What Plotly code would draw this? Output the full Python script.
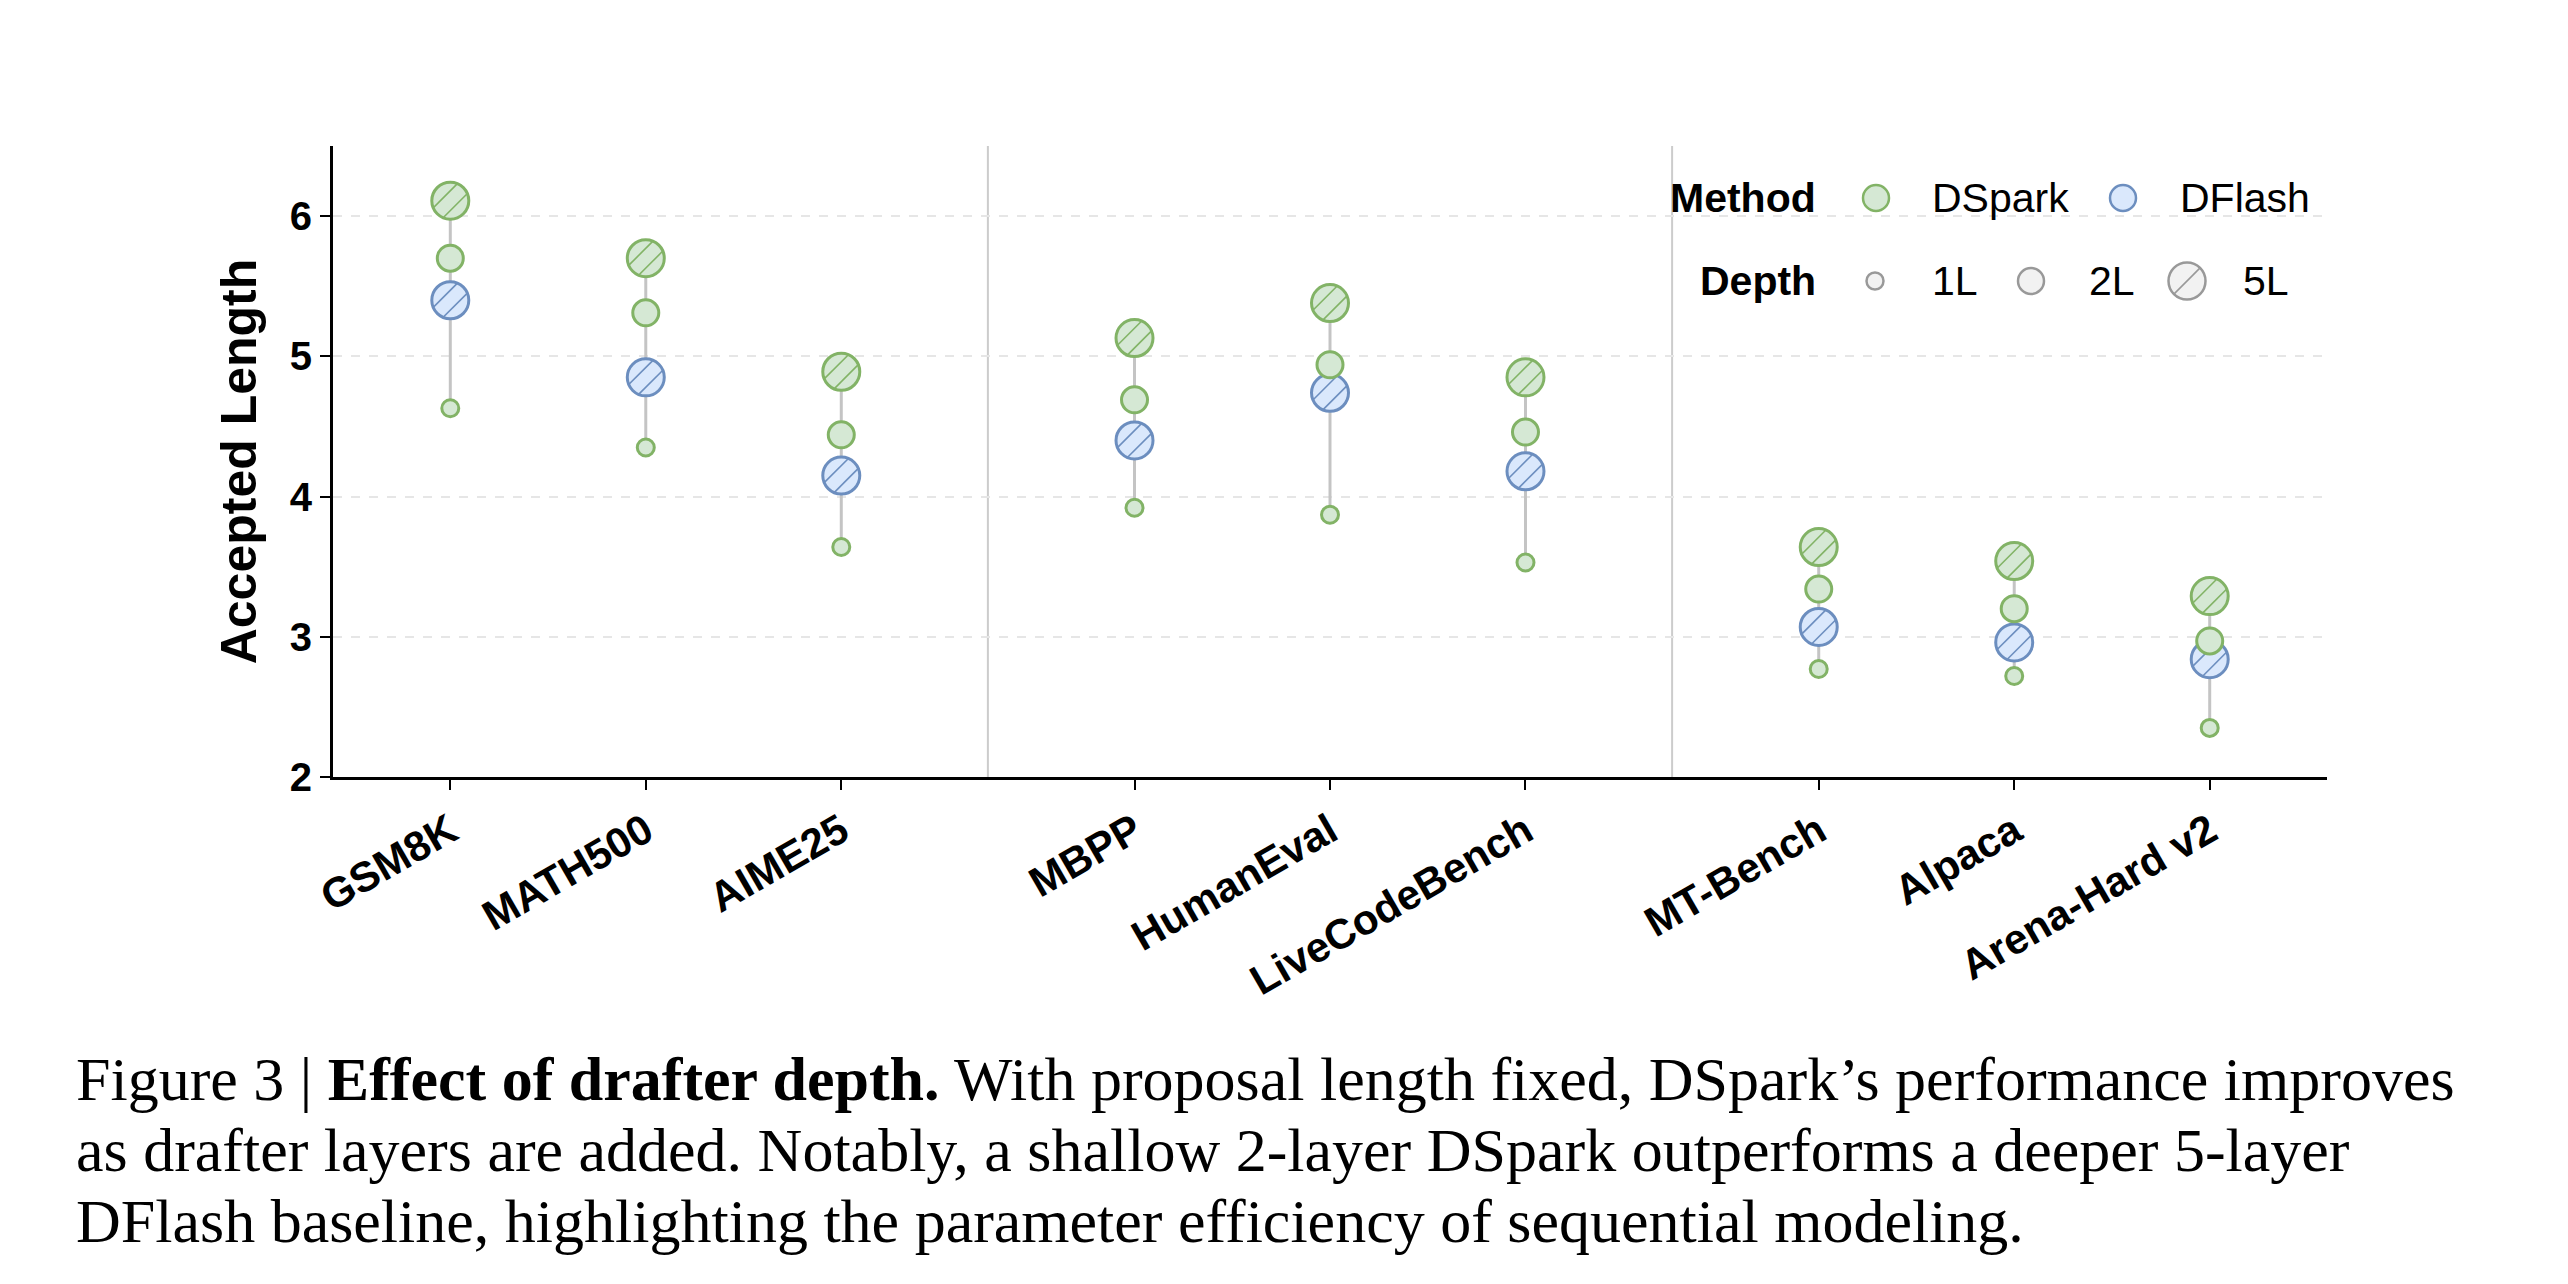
import math
import plotly.graph_objects as go

# ---------------- data ----------------
groups = [["GSM8K", "MATH500", "AIME25"],
          ["MBPP", "HumanEval", "LiveCodeBench"],
          ["MT-Bench", "Alpaca", "Arena-Hard v2"]]
categories = [c for g in groups for c in g]

dspark_1l = [4.63, 4.35, 3.64, 3.92, 3.87, 3.53, 2.77, 2.72, 2.35]
dspark_2l = [5.70, 5.31, 4.44, 4.69, 4.94, 4.46, 3.34, 3.20, 2.97]
dspark_5l = [6.11, 5.70, 4.89, 5.13, 5.38, 4.85, 3.64, 3.54, 3.29]
dflash_5l = [5.40, 4.85, 4.15, 4.40, 4.74, 4.18, 3.07, 2.96, 2.84]

y_ticks = [2, 3, 4, 5, 6]
y_range = [2, 6.5]

caption_lines = [
    "Figure 3 | <b>Effect of drafter depth.</b> With proposal length fixed, DSpark\u2019s performance improves",
    "as drafter layers are added. Notably, a shallow 2-layer DSpark outperforms a deeper 5-layer",
    "DFlash baseline, highlighting the parameter efficiency of sequential modeling.",
]

# ---------------- styling ----------------
W, H = 2568, 1284
ML, MR, MT, MB = 333, 241, 146, 507
PW, PH = W - ML - MR, H - MT - MB

DSPARK_FILL, DSPARK_EDGE = "#d5e8d4", "#82b366"
DFLASH_FILL, DFLASH_EDGE = "#dae8fc", "#6c8ebf"
GREY_FILL, GREY_EDGE = "#f2f2f2", "#999999"
SIZE_1L, SIZE_2L, SIZE_5L = 17, 26, 37
EDGE_W = 3
SANS = "Liberation Sans, Arial, sans-serif"

# x positions from group structure
group_gap = 1.5
xpos, seps = [], []
cursor = 0.0
for gi, g in enumerate(groups):
    for i in range(len(g)):
        xpos.append(cursor + i)
    last = cursor + len(g) - 1
    if gi < len(groups) - 1:
        seps.append(last + group_gap / 2)
    cursor = last + group_gap
x_range = [xpos[0] - 0.6, xpos[-1] + 0.6]

px_per_x = PW / (x_range[1] - x_range[0])
px_per_y = PH / (y_range[1] - y_range[0])

fig = go.Figure()

# connectors
cx, cy = [], []
for i, p in enumerate(xpos):
    vals = [dspark_1l[i], dspark_2l[i], dspark_5l[i], dflash_5l[i]]
    cx += [p, p, None]
    cy += [min(vals), max(vals), None]
fig.add_trace(go.Scatter(x=cx, y=cy, mode="lines", line=dict(color="#c4c4c4", width=3),
                         hoverinfo="skip", showlegend=False))


def circles(xs, ys, size, fill, edge, lw=EDGE_W, xaxis="x", yaxis="y"):
    fig.add_trace(go.Scatter(x=xs, y=ys, mode="markers", xaxis=xaxis, yaxis=yaxis,
                             marker=dict(symbol="circle", size=size, color=fill,
                                         line=dict(color=edge, width=lw)),
                             showlegend=False, hoverinfo="skip", cliponaxis=False))


def hatch(xs, ys, size, edge, offsets_px, xaxis="x", yaxis="y", ppx=px_per_x, ppy=px_per_y):
    r = size / 2.0
    for d in offsets_px:
        half = math.sqrt(max(r * r - d * d, 1.0))
        s = half * math.sqrt(2)
        comp = d / math.sqrt(2)
        hx = [x + comp / ppx for x in xs]
        hy = [y - comp / ppy for y in ys]
        fig.add_trace(go.Scatter(x=hx, y=hy, mode="markers", xaxis=xaxis, yaxis=yaxis,
                                 marker=dict(symbol="line-ne-open", size=s, color=edge,
                                             line=dict(color=edge, width=1.6)),
                                 showlegend=False, hoverinfo="skip", cliponaxis=False))


# DFlash 5L (drawn first so DSpark overlaps it)
circles(xpos, dflash_5l, SIZE_5L, DFLASH_FILL, DFLASH_EDGE)
hatch(xpos, dflash_5l, SIZE_5L, DFLASH_EDGE, [-7, 7])
# DSpark
circles(xpos, dspark_1l, SIZE_1L, DSPARK_FILL, DSPARK_EDGE)
circles(xpos, dspark_2l, SIZE_2L, DSPARK_FILL, DSPARK_EDGE)
circles(xpos, dspark_5l, SIZE_5L, DSPARK_FILL, DSPARK_EDGE)
hatch(xpos, dspark_5l, SIZE_5L, DSPARK_EDGE, [-7, 7])

# ---------------- custom legend (paper-like axes) ----------------
def px2x(px):
    return (px - ML) / PW


def py2y(py):
    return (H - MB - py) / PH


row1, row2 = 198, 281
leg_ppx, leg_ppy = PW, PH
circles([px2x(1876)], [py2y(row1)], SIZE_2L, DSPARK_FILL, DSPARK_EDGE, 2.5, "x2", "y2")
circles([px2x(2123)], [py2y(row1)], SIZE_2L, DFLASH_FILL, DFLASH_EDGE, 2.5, "x2", "y2")
circles([px2x(1875)], [py2y(row2)], SIZE_1L, GREY_FILL, GREY_EDGE, 2.5, "x2", "y2")
circles([px2x(2031)], [py2y(row2)], SIZE_2L, GREY_FILL, GREY_EDGE, 2.5, "x2", "y2")
circles([px2x(2187)], [py2y(row2)], SIZE_5L, GREY_FILL, GREY_EDGE, 2.5, "x2", "y2")
hatch([px2x(2187)], [py2y(row2)], SIZE_5L, GREY_EDGE, [0], "x2", "y2", leg_ppx, leg_ppy)

annotations = []
LEG_FONT = 41


def leg_text(txt, px, py, anchor, bold=False):
    annotations.append(dict(text=("<b>%s</b>" % txt) if bold else txt, x=px2x(px), y=py2y(py),
                            xref="paper", yref="paper", xanchor=anchor, yanchor="middle",
                            showarrow=False, font=dict(family=SANS, size=LEG_FONT, color="black")))


leg_text("Method", 1818, row1, "right", True)
leg_text("DSpark", 1930, row1, "left")
leg_text("DFlash", 2178, row1, "left")
leg_text("Depth", 1818, row2, "right", True)
leg_text("1L", 1930, row2, "left")
leg_text("2L", 2087, row2, "left")
leg_text("5L", 2241, row2, "left")

# caption
CAP_FONT = 62
for line, base in zip(caption_lines, [1100, 1171, 1242]):
    annotations.append(dict(text=line, x=px2x(74), y=py2y(base - 0.3375 * CAP_FONT),
                            xref="paper", yref="paper", xanchor="left", yanchor="middle",
                            showarrow=False,
                            font=dict(family="Liberation Serif, Times New Roman, serif",
                                      size=CAP_FONT, color="black")))

shapes = [dict(type="line", xref="x", yref="paper", x0=s, x1=s, y0=0, y1=1,
               line=dict(color="#cccccc", width=2), layer="below") for s in seps]

fig.update_layout(
    width=W, height=H,
    margin=dict(l=ML, r=MR, t=MT, b=MB, pad=0),
    paper_bgcolor="white", plot_bgcolor="white",
    font=dict(family=SANS, color="black"),
    showlegend=False,
    annotations=annotations,
    shapes=shapes,
    xaxis=dict(range=x_range, tickmode="array", tickvals=xpos,
               ticktext=["<b>%s</b>" % c for c in categories],
               tickangle=-30, tickfont=dict(family=SANS, size=42, color="black"),
               ticks="outside", ticklen=10, tickwidth=2, tickcolor="black",
               showline=True, linecolor="black", linewidth=3,
               showgrid=False, zeroline=False),
    yaxis=dict(range=y_range, tickmode="array", tickvals=y_ticks,
               ticktext=["<b>%d</b>" % t for t in y_ticks],
               tickfont=dict(family=SANS, size=40, color="black"),
               ticks="outside", ticklen=10, tickwidth=2, tickcolor="black",
               showline=True, linecolor="black", linewidth=3,
               showgrid=True, gridcolor="#e6e6e6", griddash="dash", gridwidth=2,
               zeroline=False,
               title=dict(text="<b>Accepted Length</b>", font=dict(family=SANS, size=50, color="black"),
                          standoff=18)),
    xaxis2=dict(range=[0, 1], overlaying="x", visible=False, anchor="y2"),
    yaxis2=dict(range=[0, 1], overlaying="y", visible=False, anchor="x2"),
)

fig.write_html("out.html")
